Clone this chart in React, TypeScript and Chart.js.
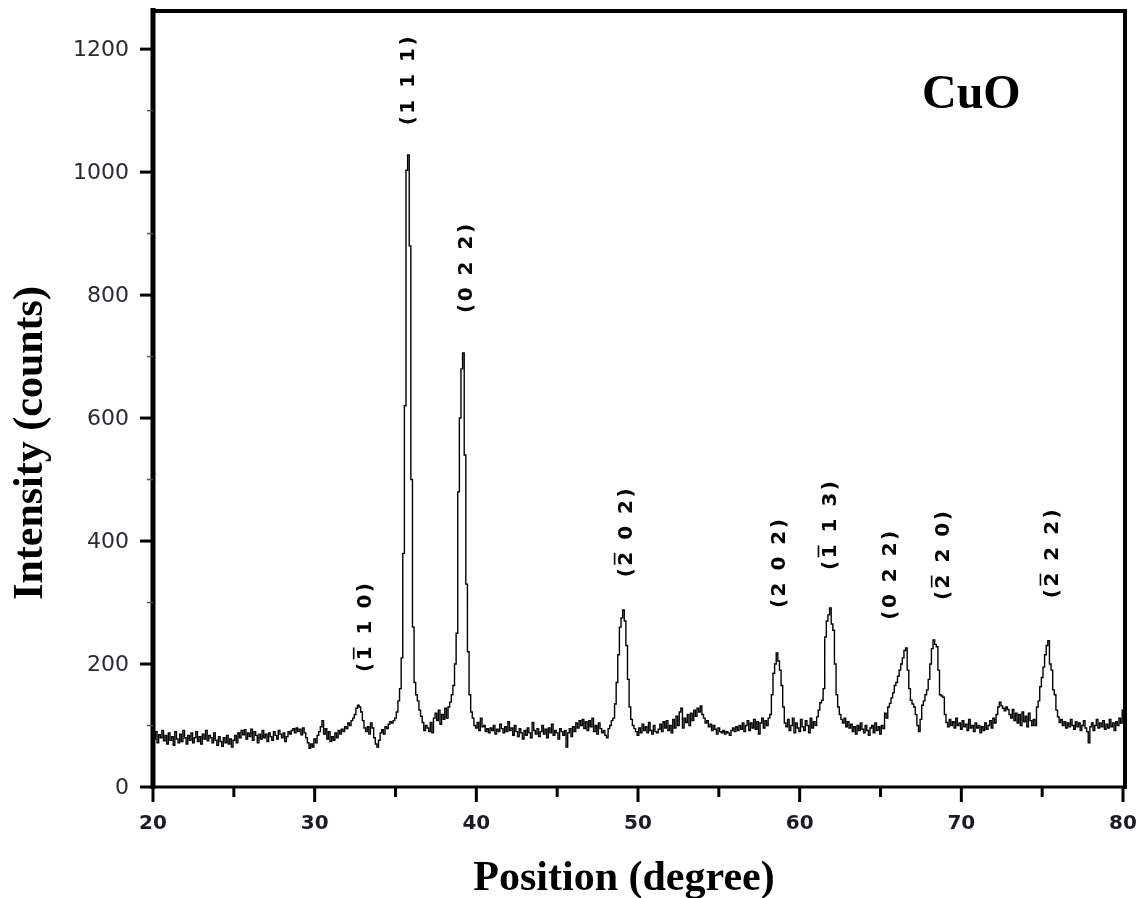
import React, { useEffect, useRef } from 'react';
import { Chart, registerables } from 'chart.js';

Chart.register(...registerables);

// XRD scan: 20° .. 80°, 0.1° sampling
const X_START = 20;
const X_STEP = 0.1;
const INTENSITY: number[] = [
  /* 20 */ 112, 78, 90, 72, 85, 80, 92, 75, 84, 70,
  /* 21 */ 88, 76, 82, 68, 90, 78, 72, 86, 74, 92,
  /* 22 */ 80, 70, 84, 76, 88, 72, 80, 90, 74, 82,
  /* 23 */ 70, 86, 78, 92, 75, 84, 80, 72, 88, 76,
  /* 24 */ 68, 82, 74, 66, 80, 72, 84, 70, 78, 65,
  /* 25 */ 76, 84, 72, 88, 80, 92, 85, 93, 78, 88,
  /* 26 */ 82, 94, 76, 90, 84, 72, 86, 78, 92, 80,
  /* 27 */ 86, 74, 88, 82, 76, 90, 84, 78, 92, 86,
  /* 28 */ 80, 88, 74, 82, 90, 86, 92, 95, 88, 96,
  /* 29 */ 90, 94, 85, 96, 88, 80, 72, 63, 70, 65,
  /* 30 */ 78, 72, 84, 90, 98, 108, 86, 95, 78, 90,
  /* 31 */ 74, 82, 76, 88, 80, 92, 86, 94, 90, 98,
  /* 32 */ 95, 104, 100, 108, 112, 118, 128, 133, 130, 122,
  /* 33 */ 108, 96, 90, 98, 86, 104, 96, 80, 70, 65,
  /* 34 */ 76, 88, 93, 86, 98, 95, 102, 106, 104, 108,
  /* 35 */ 112, 122, 140, 160, 210, 380, 620, 1003, 1028, 880,
  /* 36 */ 500, 260, 170, 150, 140, 125, 115, 105, 92, 100,
  /* 37 */ 96, 90, 105, 88, 112, 120, 108, 125, 102, 118,
  /* 38 */ 110, 128, 112, 130, 138, 150, 165, 200, 250, 480,
  /* 39 */ 600, 680, 706, 540, 330, 220, 150, 122, 112, 100,
  /* 40 */ 96, 105, 92, 112, 98, 100, 90, 95, 88, 96,
  /* 41 */ 92, 100, 86, 94, 90, 102, 95, 88, 98, 90,
  /* 42 */ 106, 92, 96, 84, 100, 90, 82, 95, 88, 78,
  /* 43 */ 92, 84, 96, 88, 80, 105, 92, 86, 95, 82,
  /* 44 */ 90, 100, 86, 94, 80, 96, 88, 102, 84, 92,
  /* 45 */ 88, 78, 95, 90, 84, 92, 65, 88, 95, 82,
  /* 46 */ 98, 90, 104, 96, 108, 100, 110, 95, 106, 92,
  /* 47 */ 108, 98, 112, 90, 100, 86, 104, 95, 88, 92,
  /* 48 */ 84, 80, 95, 100, 108, 112, 135, 170, 215, 260,
  /* 49 */ 275, 288, 270, 230, 175, 130, 110, 100, 95, 90,
  /* 50 */ 84, 96, 88, 102, 92, 98, 88, 105, 92, 86,
  /* 51 */ 100, 90, 88, 94, 102, 90, 106, 96, 108, 92,
  /* 52 */ 100, 88, 110, 96, 115, 100, 122, 128, 96, 112,
  /* 53 */ 105, 118, 100, 120, 108, 125, 115, 128, 122, 132,
  /* 54 */ 118, 112, 104, 108, 98, 102, 92, 100, 94, 86,
  /* 55 */ 96, 90, 88, 92, 86, 90, 88, 84, 92, 96,
  /* 56 */ 90, 98, 92, 100, 94, 104, 90, 100, 108, 92,
  /* 57 */ 104, 96, 110, 94, 106, 86, 104, 112, 96, 108,
  /* 58 */ 100, 112, 118, 150, 185, 200, 218, 205, 190, 165,
  /* 59 */ 130, 104, 98, 110, 92, 100, 112, 88, 104, 96,
  /* 60 */ 90, 110, 98, 92, 108, 100, 88, 112, 96, 106,
  /* 61 */ 100, 114, 125, 137, 141, 160, 244, 270, 280, 291,
  /* 62 */ 265, 255, 200, 150, 130, 118, 110, 104, 112, 98,
  /* 63 */ 106, 96, 102, 90, 98, 86, 100, 92, 104, 94,
  /* 64 */ 88, 100, 92, 84, 96, 100, 88, 104, 92, 98,
  /* 65 */ 86, 100, 95, 120, 112, 130, 136, 145, 153, 165,
  /* 66 */ 170, 180, 190, 200, 210, 222, 226, 190, 160, 141,
  /* 67 */ 135, 130, 118, 100, 90, 110, 133, 140, 150, 158,
  /* 68 */ 175, 200, 225, 239, 232, 228, 190, 150, 148, 146,
  /* 69 */ 118, 105, 98, 110, 100, 106, 96, 112, 100, 104,
  /* 70 */ 94, 108, 98, 102, 92, 110, 96, 100, 90, 104,
  /* 71 */ 96, 100, 88, 98, 92, 104, 94, 100, 108, 96,
  /* 72 */ 112, 104, 118, 130, 138, 132, 128, 124, 130, 126,
  /* 73 */ 118, 112, 126, 108, 120, 104, 118, 100, 122, 106,
  /* 74 */ 115, 98, 120, 108, 100, 110, 100, 130, 140, 163,
  /* 75 */ 178, 195, 215, 230, 238, 200, 190, 158, 150, 125,
  /* 76 */ 114, 105, 110, 100, 106, 96, 104, 98, 110, 100,
  /* 77 */ 94, 106, 98, 104, 92, 100, 108, 96, 90, 72,
  /* 78 */ 98, 104, 92, 100, 110, 96, 104, 98, 108, 94,
  /* 79 */ 102, 96, 110, 98, 104, 92, 106, 100, 112, 104,
  /* 80 */ 125,
];

const X_MIN = 20;
const X_MAX = 80;
const Y_MIN = 0;
const Y_MAX = 1262;
const X_TICKS = [20, 30, 40, 50, 60, 70, 80];
const X_MINOR_TICKS = [25, 35, 45, 55, 65, 75];
const Y_TICKS = [0, 200, 400, 600, 800, 1000, 1200];
const Y_MINOR_TICKS = [100, 300, 500, 700, 900, 1100];

const X_TITLE = 'Position (degree)';
const Y_TITLE = 'Intensity (counts)';
const SAMPLE_LABEL = 'CuO';

// Miller-index labels: position (deg), base intensity, text, index of barred char (-1 = none)
const PEAK_POS = [33.05, 35.71, 39.3, 49.19, 58.65, 61.8, 65.52, 68.8, 75.53];
const PEAK_BASE = [187, 1076, 771, 341, 291, 353, 272, 304, 307];
const PEAK_TEXT = ['(1 1 0)', '(1 1 1)', '(0 2 2)', '(2 0 2)', '(2 0 2)', '(1 1 3)', '(0 2 2)', '(2 2 0)', '(2 2 2)'];
const PEAK_BAR = [1, -1, -1, 1, -1, 1, -1, 1, 1];

const overlayPlugin = {
  id: 'xrdOverlay',
  afterDraw(chart: any) {
    const { ctx, chartArea } = chart;
    const xs = chart.scales.x;
    const ys = chart.scales.y;
    const L = chartArea.left, R = chartArea.right + 2, T = chartArea.top, B = chartArea.bottom;
    ctx.save();
    ctx.strokeStyle = '#000';
    ctx.lineCap = 'butt';

    // frame
    ctx.lineWidth = 5;
    ctx.beginPath(); ctx.moveTo(L, T - 3); ctx.lineTo(L, B + 2); ctx.stroke();
    ctx.lineWidth = 4;
    ctx.beginPath(); ctx.moveTo(L - 2, T); ctx.lineTo(R + 2, T); ctx.stroke();
    ctx.beginPath(); ctx.moveTo(R, T - 2); ctx.lineTo(R, B + 2); ctx.stroke();
    ctx.lineWidth = 3;
    ctx.beginPath(); ctx.moveTo(L - 2, B); ctx.lineTo(R + 2, B); ctx.stroke();

    // x ticks
    ctx.lineWidth = 3;
    X_TICKS.forEach((v) => {
      const px = xs.getPixelForValue(v);
      ctx.beginPath(); ctx.moveTo(px, B); ctx.lineTo(px, B + 15); ctx.stroke();
    });
    X_MINOR_TICKS.forEach((v) => {
      const px = xs.getPixelForValue(v);
      ctx.beginPath(); ctx.moveTo(px, B); ctx.lineTo(px, B + 10); ctx.stroke();
    });
    // y ticks
    Y_TICKS.forEach((v) => {
      const py = ys.getPixelForValue(v);
      ctx.beginPath(); ctx.moveTo(L - 13, py); ctx.lineTo(L, py); ctx.stroke();
    });
    ctx.lineWidth = 1.5;
    ctx.strokeStyle = '#555';
    Y_MINOR_TICKS.forEach((v) => {
      const py = ys.getPixelForValue(v);
      ctx.beginPath(); ctx.moveTo(L - 6, py); ctx.lineTo(L, py); ctx.stroke();
    });

    // tick labels
    ctx.fillStyle = '#1b1b24';
    ctx.font = 'bold 20px "DejaVu Sans"';
    ctx.textAlign = 'center';
    ctx.textBaseline = 'middle';
    X_TICKS.forEach((v) => {
      ctx.fillText(String(v), xs.getPixelForValue(v), B + 37);
    });
    ctx.font = '22px "DejaVu Sans"';
    ctx.fillStyle = '#2a2a33';
    ctx.textAlign = 'right';
    Y_TICKS.forEach((v) => {
      ctx.fillText(String(v), L - 24, ys.getPixelForValue(v) + 1);
    });

    // axis titles
    ctx.fillStyle = '#000';
    ctx.font = 'bold 42px "Liberation Serif"';
    ctx.textAlign = 'center';
    ctx.textBaseline = 'alphabetic';
    ctx.fillText(X_TITLE, (L + R) / 2 - 15, 890);
    ctx.save();
    ctx.translate(42, 443);
    ctx.rotate(-Math.PI / 2);
    ctx.fillText(Y_TITLE, 0, 0);
    ctx.restore();

    // sample label
    ctx.font = 'bold 48px "Liberation Serif"';
    ctx.textAlign = 'left';
    ctx.fillText(SAMPLE_LABEL, 922, 108);

    // peak labels
    const fs = 20;
    const capH = fs * 0.729;
    const spacing = 2.5;
    ctx.font = `bold ${fs}px "DejaVu Sans"`;
    PEAK_TEXT.forEach((txt, i) => {
      const px = xs.getPixelForValue(PEAK_POS[i]);
      const py = ys.getPixelForValue(PEAK_BASE[i]);
      ctx.save();
      ctx.translate(px, py);
      ctx.rotate(-Math.PI / 2);
      ctx.textAlign = 'left';
      ctx.textBaseline = 'alphabetic';
      let cx = 0;
      for (let k = 0; k < txt.length; k++) {
        const ch = txt[k];
        const w = ctx.measureText(ch).width;
        ctx.fillText(ch, cx, capH / 2);
        if (k === PEAK_BAR[i]) {
          ctx.strokeStyle = '#000';
          ctx.lineWidth = 1.6;
          ctx.beginPath();
          ctx.moveTo(cx + 1, -capH / 2 - 3);
          ctx.lineTo(cx + w - 1, -capH / 2 - 3);
          ctx.stroke();
        }
        cx += w + spacing;
      }
      ctx.restore();
    });

    ctx.restore();
  },
};

export default function App() {
  const ref = useRef<HTMLCanvasElement | null>(null);

  useEffect(() => {
    if (!ref.current) return;
    const points = INTENSITY.map((v, i) => ({ x: Math.round((X_START + i * X_STEP) * 10) / 10, y: v }));
    const chart = new Chart(ref.current, {
      type: 'line',
      data: {
        datasets: [
          {
            data: points,
            borderColor: '#000',
            borderWidth: 1.4,
            pointRadius: 0,
            stepped: 'middle',
            fill: false,
          },
        ],
      },
      options: {
        animation: false,
        responsive: false,
        devicePixelRatio: 1,
        layout: { padding: { top: 11, right: 19, left: 0, bottom: 0 } },
        plugins: { legend: { display: false }, tooltip: { enabled: false } },
        scales: {
          x: {
            type: 'linear',
            min: X_MIN,
            max: X_MAX,
            grid: { display: false, drawTicks: false },
            border: { display: false },
            ticks: { display: false },
            afterFit: (s: any) => { s.height = 111; },
          },
          y: {
            type: 'linear',
            min: Y_MIN,
            max: Y_MAX,
            grid: { display: false, drawTicks: false },
            border: { display: false },
            ticks: { display: false },
            afterFit: (s: any) => { s.width = 153; },
          },
        },
      },
      plugins: [overlayPlugin],
    });
    return () => chart.destroy();
  }, []);

  return (
    <div style={{ position: 'fixed', left: 0, top: 0, width: 1142, height: 898, background: '#fff' }}>
      <canvas ref={ref} width={1142} height={898} style={{ display: 'block' }} />
    </div>
  );
}
